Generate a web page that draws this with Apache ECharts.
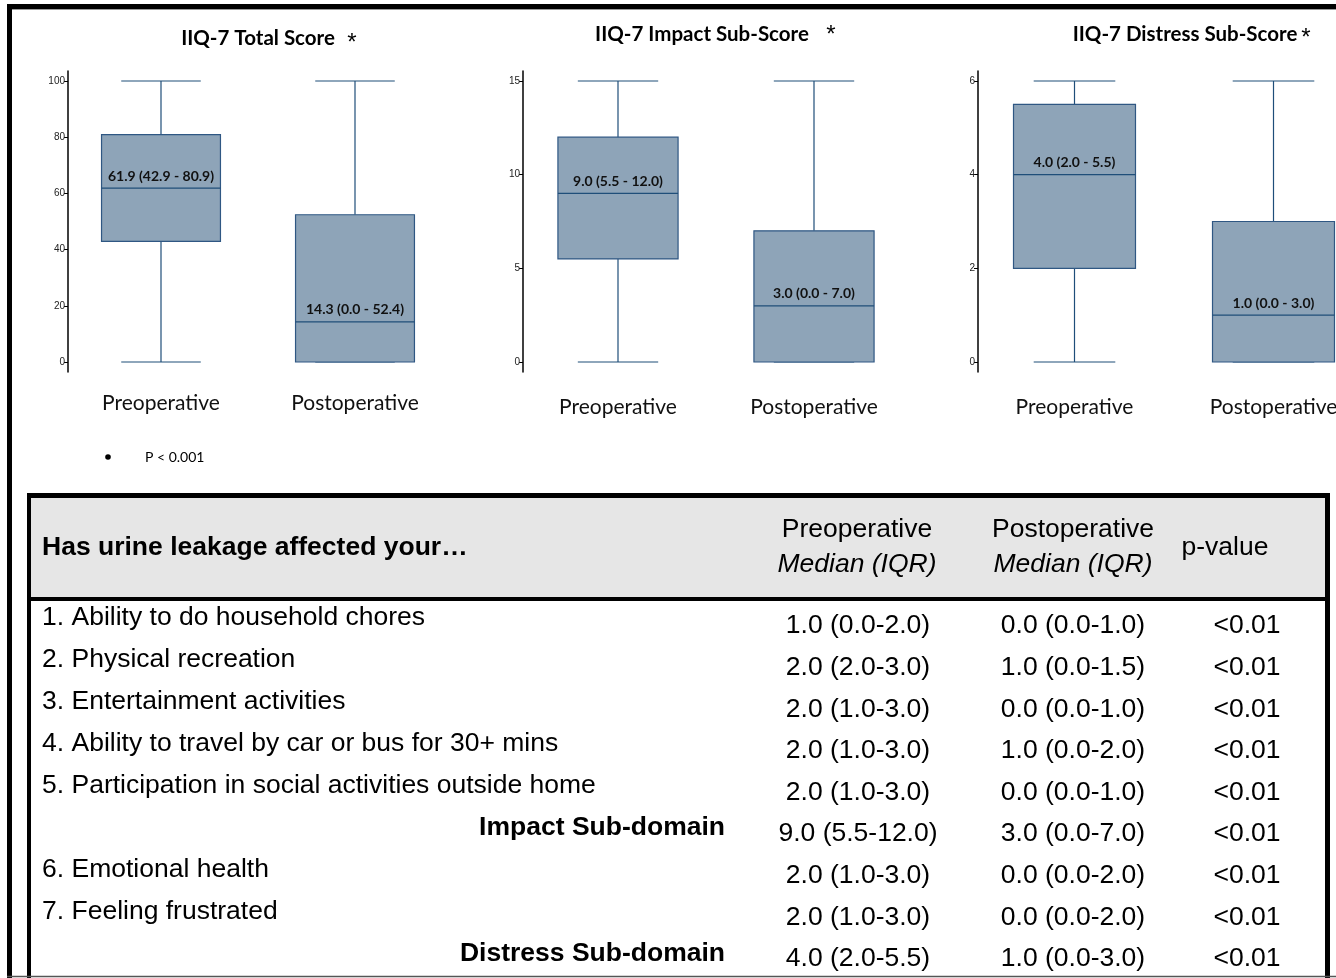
<!DOCTYPE html>
<html>
<head>
<meta charset="utf-8">
<title>IIQ-7 scores</title>
<script src="https://cdn.jsdelivr.net/npm/echarts@6.0.0/dist/echarts.min.js"></script>
<style>
  html, body { margin: 0; padding: 0; background: #fff; }
  #main { width: 1336px; height: 978px; }
</style>
</head>
<body>
<div id="main"></div>
<script>
// ---- data ----
var categories = ['Preoperative', 'Postoperative'];
// [min, Q1, median, Q3, max]
var totalScore = [[0, 42.9, 61.9, 80.9, 100], [0, 0.0, 14.3, 52.4, 100]];
var impactScore = [[0, 5.5, 9.0, 12.0, 15], [0, 0.0, 3.0, 7.0, 15]];
var distressScore = [[0, 2.0, 4.0, 5.5, 6], [0, 0.0, 1.0, 3.0, 6]];
var totalTicks = [0, 20, 40, 60, 80, 100];
var impactTicks = [0, 5, 10, 15];
var distressTicks = [0, 2, 4, 6];
var panelTitles = ['IIQ-7 Total Score', 'IIQ-7 Impact Sub-Score', 'IIQ-7 Distress Sub-Score'];

var tableQuestion = 'Has urine leakage affected your\u2026';
var rowLabels = [
    '1. Ability to do household chores',
    '2. Physical recreation',
    '3. Entertainment activities',
    '4. Ability to travel by car or bus for 30+ mins',
    '5. Participation in social activities outside home',
    'Impact Sub-domain',
    '6. Emotional health',
    '7. Feeling frustrated',
    'Distress Sub-domain'
];
var subdomainRows = [5, 8];
var preValues = ['1.0 (0.0-2.0)', '2.0 (2.0-3.0)', '2.0 (1.0-3.0)', '2.0 (1.0-3.0)', '2.0 (1.0-3.0)',
                 '9.0 (5.5-12.0)', '2.0 (1.0-3.0)', '2.0 (1.0-3.0)', '4.0 (2.0-5.5)'];
var postValues = ['0.0 (0.0-1.0)', '1.0 (0.0-1.5)', '0.0 (0.0-1.0)', '1.0 (0.0-2.0)', '0.0 (0.0-1.0)',
                  '3.0 (0.0-7.0)', '0.0 (0.0-2.0)', '0.0 (0.0-2.0)', '1.0 (0.0-3.0)'];
var pValues = ['<0.01', '<0.01', '<0.01', '<0.01', '<0.01', '<0.01', '<0.01', '<0.01', '<0.01'];

// ---- chart ----
var chart = echarts.init(document.getElementById('main'));
var LATO = 'Lato, "Open Sans", sans-serif';
var ARIAL = '"Liberation Sans", Arial, sans-serif';
var boxLine = '#1f4e79';

function toRows(stats) {
    return stats.map(function (s, i) { return [i].concat(s); });
}

function fmt(v) { return v.toFixed(1); }

function renderBox(params, api) {
    var cat = api.value(0);
    var vals = [api.value(1), api.value(2), api.value(3), api.value(4), api.value(5)];
    var ys = vals.map(function (v) { return api.coord([cat, v])[1]; });
    var cx = api.coord([cat, vals[0]])[0];
    var band = api.size([1, 0])[0];
    var bw = band * 0.613, cw = band * 0.41;
    var lineStyle = { stroke: boxLine, lineWidth: 1.2 };
    var label = fmt(vals[2]) + ' (' + fmt(vals[1]) + ' - ' + fmt(vals[3]) + ')';
    return {
        type: 'group',
        children: [
            { type: 'line', shape: { x1: cx, y1: ys[4], x2: cx, y2: ys[3] }, style: lineStyle },
            { type: 'line', shape: { x1: cx, y1: ys[1], x2: cx, y2: ys[0] }, style: lineStyle },
            { type: 'line', shape: { x1: cx - cw / 2, y1: ys[4], x2: cx + cw / 2, y2: ys[4] }, style: lineStyle },
            { type: 'line', shape: { x1: cx - cw / 2, y1: ys[0], x2: cx + cw / 2, y2: ys[0] }, style: lineStyle },
            { type: 'rect', shape: { x: cx - bw / 2, y: ys[3], width: bw, height: ys[1] - ys[3] },
              style: { fill: '#8ea4b8', stroke: '#2f5783', lineWidth: 1.2 } },
            { type: 'line', shape: { x1: cx - bw / 2, y1: ys[2], x2: cx + bw / 2, y2: ys[2] }, style: lineStyle },
            { type: 'text', x: cx, y: ys[2] - 5,
              style: { text: label, textAlign: 'center', textVerticalAlign: 'bottom',
                       font: 'bold 14px ' + LATO, fill: '#111' } }
        ]
    };
}

var panels = [
    { stats: totalScore, ticks: totalTicks, left: 64, width: 388, offset: -4, labelMargin: 21 },
    { stats: impactScore, ticks: impactTicks, left: 520, width: 392, offset: -3, labelMargin: 25 },
    { stats: distressScore, ticks: distressTicks, left: 975, width: 398, offset: -3, labelMargin: 25 }
];

var grids = [], xAxes = [], yAxes = [], series = [];
panels.forEach(function (p, i) {
    var top = p.ticks[p.ticks.length - 1];
    var pad = top * 10 / 281;
    grids.push({ left: p.left, width: p.width, top: 71, height: 301, outerBoundsMode: 'none', containLabel: false });
    xAxes.push({
        type: 'category', gridIndex: i, data: categories,
        axisLine: { show: false }, axisTick: { show: false },
        axisLabel: { fontFamily: LATO, fontSize: 21, color: '#111', margin: p.labelMargin }
    });
    yAxes.push({
        type: 'value', gridIndex: i, min: -pad, max: top + pad, offset: p.offset,
        splitLine: { show: false },
        axisLine: { show: true, lineStyle: { color: '#000', width: 1.5 } },
        axisTick: { show: true, length: 4, customValues: p.ticks, lineStyle: { color: '#000' } },
        axisLabel: { customValues: p.ticks, fontFamily: ARIAL, fontSize: 10, color: '#222', margin: 3 }
    });
    series.push({
        type: 'custom', xAxisIndex: i, yAxisIndex: i,
        data: toRows(p.stats), encode: { x: 0, y: [1, 2, 3, 4, 5] },
        renderItem: renderBox, silent: true
    });
});

// ---- table and frame drawn as graphic elements ----
var g = [];
function txt(x, y, text, font, align) {
    g.push({ type: 'text', x: x, y: y, silent: true,
             style: { text: text, font: font, fill: '#000', textAlign: align || 'left', textVerticalAlign: 'middle' } });
}
function box(x, y, w, h, fill) {
    g.push({ type: 'rect', shape: { x: x, y: y, width: w, height: h }, style: { fill: fill }, silent: true });
}

// outer frame
box(7, 4, 1329, 5, '#000');
box(7, 4, 5, 974, '#000');
g.push({ type: 'line', shape: { x1: 12, y1: 9.5, x2: 1336, y2: 9.5 }, style: { stroke: '#999', lineWidth: 1 } });

// panel titles
txt(258, 38, panelTitles[0], 'bold 20.5px ' + LATO, 'center');
txt(702, 34, panelTitles[1], 'bold 20.5px ' + LATO, 'center');
txt(1185, 34, panelTitles[2], 'bold 20.5px ' + LATO, 'center');
txt(352, 43, '*', '24px ' + ARIAL, 'center');
txt(831, 35, '*', '24px ' + ARIAL, 'center');
txt(1306, 38, '*', '24px ' + ARIAL, 'center');

// footnote
g.push({ type: 'circle', shape: { cx: 108, cy: 457, r: 2.8 }, style: { fill: '#000' } });
txt(145, 457, 'P < 0.001', '14px ' + LATO, 'left');

// table
box(31, 498, 1294, 99, '#e6e6e6');
box(27, 493, 1303, 5, '#000');
box(27, 493, 4, 485, '#000');
box(1325, 493, 5, 485, '#000');
box(27, 597, 1303, 4, '#000');
g.push({ type: 'line', shape: { x1: 7, y1: 976.5, x2: 1336, y2: 976.5 }, style: { stroke: '#555', lineWidth: 1.5 } });

var F = '26.5px ' + ARIAL, FB = 'bold 26.5px ' + ARIAL, FI = 'italic 26.5px ' + ARIAL;
txt(42, 548, tableQuestion, FB, 'left');
txt(857, 530, 'Preoperative', F, 'center');
txt(857, 565, 'Median (IQR)', FI, 'center');
txt(1073, 530, 'Postoperative', F, 'center');
txt(1073, 565, 'Median (IQR)', FI, 'center');
txt(1225, 548, 'p-value', F, 'center');

rowLabels.forEach(function (lab, i) {
    var yl = 618 + i * 41.9, yv = 626 + i * 41.6;
    if (subdomainRows.indexOf(i) >= 0) {
        txt(725, yl, lab, FB, 'right');
    } else {
        txt(42, yl, lab, F, 'left');
    }
    txt(858, yv, preValues[i], F, 'center');
    txt(1073, yv, postValues[i], F, 'center');
    txt(1247, yv, pValues[i], F, 'center');
});

var option = {
    backgroundColor: '#fff',
    animation: false,
    grid: grids,
    xAxis: xAxes,
    yAxis: yAxes,
    series: series,
    graphic: { elements: g }
};
chart.setOption(option);
</script>
</body>
</html>
